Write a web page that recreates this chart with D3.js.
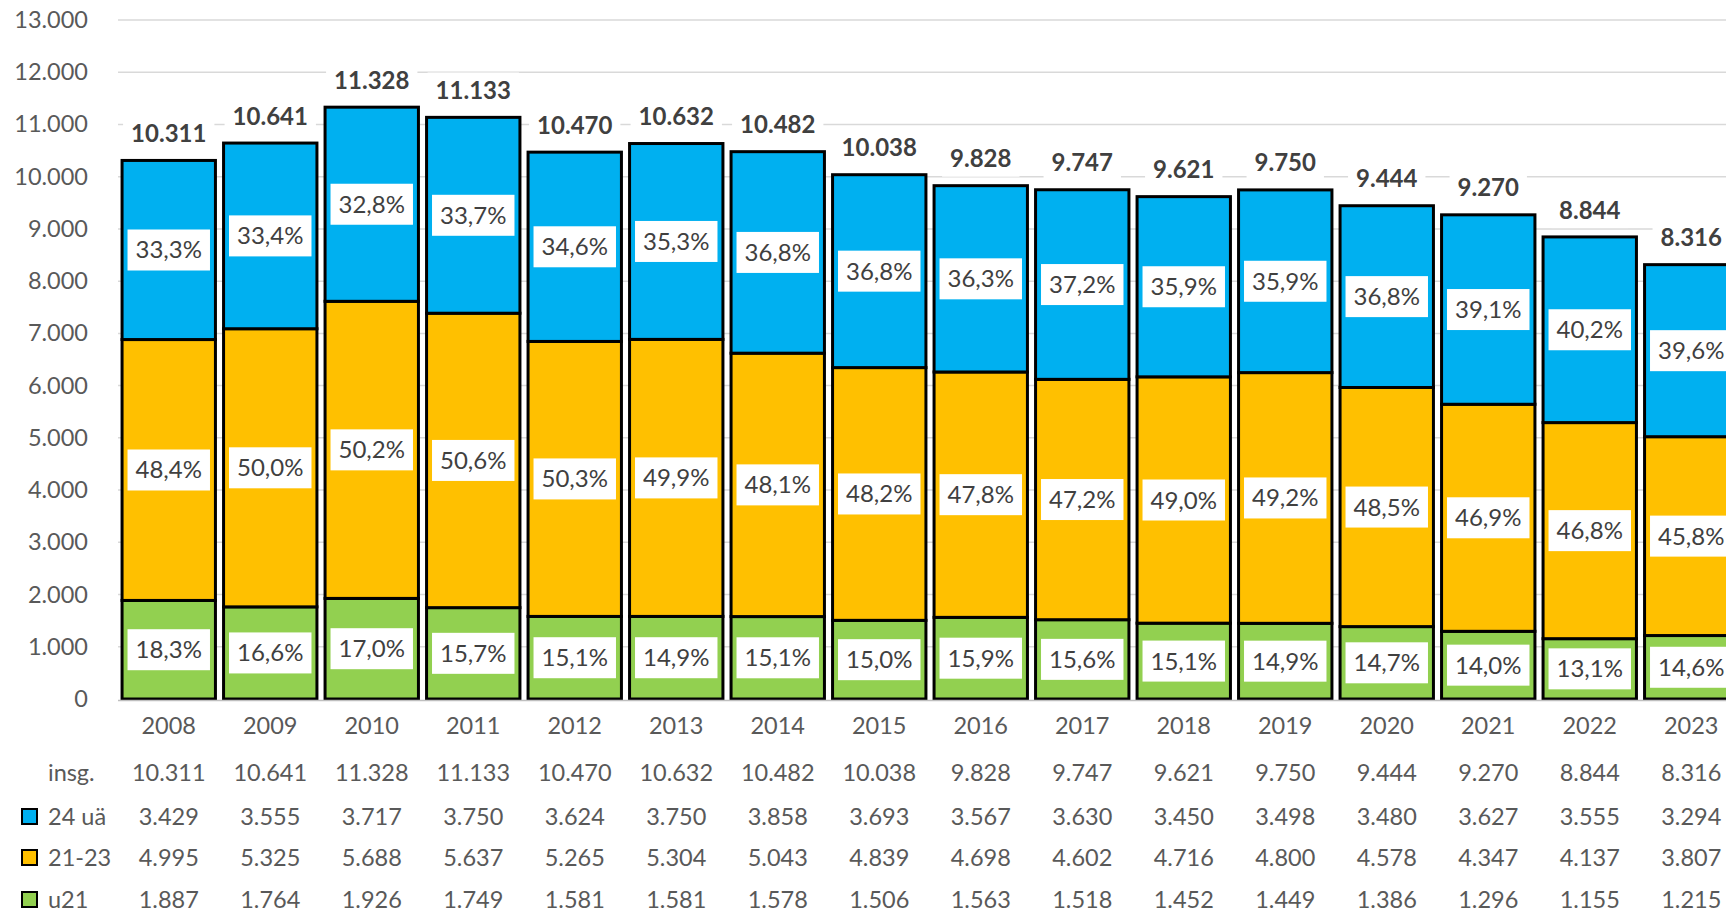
<!DOCTYPE html>
<html>
<head>
<meta charset="utf-8">
<script src="https://cdn.jsdelivr.net/npm/d3@7"></script>
<style>
  body { margin: 0; background: #fff; }
  svg { display: block; font-family: Lato, "Open Sans", sans-serif; }
</style>
</head>
<body>
<svg id="chart"></svg>
<script>
// values
const years = ["2008","2009","2010","2011","2012","2013","2014","2015","2016","2017","2018","2019","2020","2021","2022","2023"]
const totals = [10311,10641,11328,11133,10470,10632,10482,10038,9828,9747,9621,9750,9444,9270,8844,8316]
const ua24 = [3429,3555,3717,3750,3624,3750,3858,3693,3567,3630,3450,3498,3480,3627,3555,3294]
const age2123 = [4995,5325,5688,5637,5265,5304,5043,4839,4698,4602,4716,4800,4578,4347,4137,3807]
const u21 = [1887,1764,1926,1749,1581,1581,1578,1506,1563,1518,1452,1449,1386,1296,1155,1215]
const yTicks = [0,1000,2000,3000,4000,5000,6000,7000,8000,9000,10000,11000,12000,13000]

const seriesNames = ["u21", "21-23", "24 uä"]
const colors = { "u21": "#92D050", "21-23": "#FFC000", "24 uä": "#00B0F0" }

const W = 1726, H = 913
const de = d3.formatLocale({ decimal: ",", thousands: ".", grouping: [3], currency: ["", " €"] })
const fmtNum = de.format(",d")
const fmtPct = de.format(".1%")

const svg = d3.select("#chart").attr("width", W).attr("height", H)

const x = d3.scaleBand()
  .domain(years)
  .range([118, 1742])
  .paddingInner(0.08)
  .paddingOuter(0.04)

const y = d3.scaleLinear().domain([0, 13000]).range([699, 20])

// gridlines
svg.append("g")
  .selectAll("line")
  .data(yTicks.slice(1))
  .join("line")
  .attr("x1", 118).attr("x2", W)
  .attr("y1", d => y(d)).attr("y2", d => y(d))
  .attr("stroke", "#d9d9d9")
  .attr("stroke-width", 1.5)

// y axis labels
svg.append("g")
  .selectAll("text")
  .data(yTicks)
  .join("text")
  .attr("x", 88)
  .attr("y", d => y(d) + 8)
  .attr("text-anchor", "end")
  .attr("font-size", 23.5)
  .attr("fill", "#595959")
  .text(d => fmtNum(d))

// stacked data
const rows = years.map((yr, i) => ({ year: yr, "u21": u21[i], "21-23": age2123[i], "24 uä": ua24[i], total: totals[i] }))
const stacked = d3.stack().keys(seriesNames)(rows)

const layers = svg.append("g")
  .selectAll("g")
  .data(stacked)
  .join("g")
  .attr("fill", d => colors[d.key])

layers.selectAll("rect")
  .data(d => d)
  .join("rect")
  .attr("x", d => x(d.data.year))
  .attr("width", x.bandwidth())
  .attr("y", d => y(d[1]))
  .attr("height", d => y(d[0]) - y(d[1]))
  .attr("stroke", "#000")
  .attr("stroke-width", 3)

// x axis line
svg.append("line")
  .attr("x1", 118).attr("x2", W)
  .attr("y1", 700.5).attr("y2", 700.5)
  .attr("stroke", "#bfbfbf")
  .attr("stroke-width", 1.5)

// label with white box behind it
function boxedLabel(g, cx, cy, txt, opts) {
  const t = g.append("text")
    .attr("x", cx)
    .attr("y", cy + 8.5)
    .attr("text-anchor", "middle")
    .attr("font-size", 24)
    .attr("font-weight", opts.bold ? "bold" : "normal")
    .attr("fill", opts.color)
    .text(txt)
  const w = t.node().getComputedTextLength() + opts.pad * 2
  g.insert("rect", "text")
    .attr("x", cx - w / 2)
    .attr("y", cy - opts.h / 2)
    .attr("width", w)
    .attr("height", opts.h)
    .attr("fill", "#fff")
}

// percentage labels
stacked.forEach(layer => {
  layer.forEach(d => {
    const g = svg.append("g")
    const cx = x(d.data.year) + x.bandwidth() / 2
    const cy = (y(d[0]) + y(d[1])) / 2
    boxedLabel(g, cx, cy, fmtPct((d[1] - d[0]) / d.data.total), { color: "#404040", pad: 8, h: 41 })
  })
})

// totals
rows.forEach(d => {
  const g = svg.append("g")
  const cx = x(d.year) + x.bandwidth() / 2
  boxedLabel(g, cx, y(d.total) - 27, fmtNum(d.total), { color: "#404040", pad: 8, h: 36, bold: true })
})

// year labels
svg.append("g")
  .selectAll("text")
  .data(years)
  .join("text")
  .attr("x", d => x(d) + x.bandwidth() / 2)
  .attr("y", 734)
  .attr("text-anchor", "middle")
  .attr("font-size", 23.5)
  .attr("fill", "#595959")
  .text(d => d)

// data table below
const tableRows = [
  { label: "insg.", values: totals, color: null, y: 773 },
  { label: "24 uä", values: ua24, color: colors["24 uä"], y: 817 },
  { label: "21-23", values: age2123, color: colors["21-23"], y: 858 },
  { label: "u21", values: u21, color: colors["u21"], y: 900 }
]

const table = svg.append("g")
tableRows.forEach(r => {
  if (r.color) {
    table.append("rect")
      .attr("x", 22).attr("y", r.y - 8)
      .attr("width", 15).attr("height", 15)
      .attr("fill", r.color)
      .attr("stroke", "#000")
      .attr("stroke-width", 2)
  }
  table.append("text")
    .attr("x", 48).attr("y", r.y + 8)
    .attr("font-size", 23.5)
    .attr("fill", "#595959")
    .text(r.label)
  table.append("g")
    .selectAll("text")
    .data(r.values)
    .join("text")
    .attr("x", (d, i) => x(years[i]) + x.bandwidth() / 2)
    .attr("y", r.y + 8)
    .attr("text-anchor", "middle")
    .attr("font-size", 23.5)
    .attr("fill", "#595959")
    .text(d => fmtNum(d))
})
</script>
</body>
</html>
